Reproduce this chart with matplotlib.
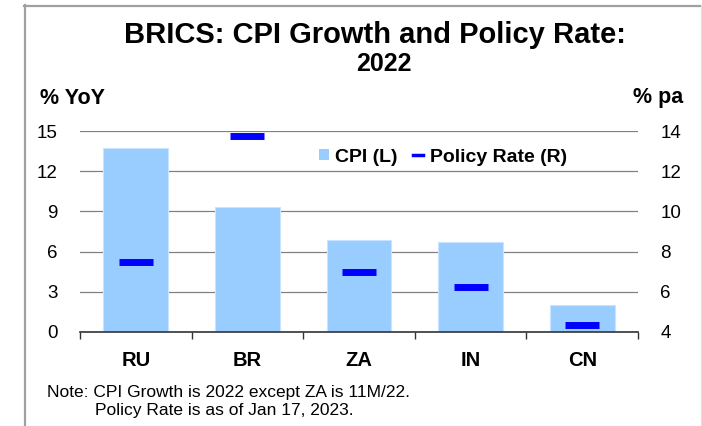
import matplotlib
matplotlib.use("Agg")
import matplotlib.pyplot as plt
import numpy as np
from matplotlib.patches import Patch
from matplotlib.lines import Line2D

plt.rcParams['font.family'] = ['Liberation Sans', 'DejaVu Sans']

countries = ["RU", "BR", "ZA", "IN", "CN"]
cpi = [13.7, 9.3, 6.9, 6.7, 2.0]
policy_rate = [7.5, 13.75, 7.0, 6.25, 4.35]
left_ticks = [0, 3, 6, 9, 12, 15]
right_ticks = [4, 6, 8, 10, 12, 14]

W, H = 702, 426
fig = plt.figure(figsize=(W / 100, H / 100), dpi=100)

x0, x1, ytop, ybot = 80, 638, 131, 332
ax = fig.add_axes([x0 / W, 1 - ybot / H, (x1 - x0) / W, (ybot - ytop) / H])
ax2 = ax.twinx()

x = np.arange(len(countries))
ax.bar(x, cpi, width=0.58, color='#99CCFF', edgecolor='#C8E4FF', linewidth=0.8, zorder=2)
ax.set_xlim(-0.5, len(countries) - 0.5)
ax.set_ylim(0, 15)
ax.set_yticks(left_ticks)
ax.yaxis.grid(True, color='#808080', linewidth=0.9, zorder=0)
ax.set_axisbelow(True)
ax.tick_params(axis='y', length=0, pad=16, labelsize=13.5)
ax.set_xticks(x)
ax.set_xticklabels(countries, fontweight='bold', fontsize=14.5)
ax.set_xticks(np.arange(-0.5, len(countries)), minor=True)
ax.tick_params(axis='x', which='major', length=0, pad=14)
ax.tick_params(axis='x', which='minor', length=5, width=1, color='#333333')

ax2.set_ylim(4, 14)
ax2.set_yticks(right_ticks)
ax2.tick_params(axis='y', length=0, pad=16, labelsize=13.5)
ax2.plot(x, policy_rate, ls='none', marker='_', ms=25, mew=5, color='#0000FF', zorder=3)

for a in (ax, ax2):
    for s in ('top', 'left', 'right'):
        a.spines[s].set_visible(False)
ax.spines['bottom'].set_color('#333333')
ax.spines['bottom'].set_linewidth(1.2)
ax2.spines['bottom'].set_visible(False)

handles = [Patch(facecolor='#99CCFF', edgecolor='none'),
           Line2D([], [], color='#0000FF', lw=2.5)]
leg = ax2.legend(handles, ["CPI (L)", "Policy Rate (R)"], ncol=2, frameon=False,
                 loc='center', bbox_to_anchor=((443 - x0) / (x1 - x0), (ybot - 157) / (ybot - ytop)),
                 prop={'weight': 'bold', 'size': 14}, handlelength=0.5, handleheight=0.5,
                 handletextpad=0.35, columnspacing=0.8, borderpad=0)

fig.text(375 / W, 1 - 35 / H, "BRICS: CPI Growth and Policy Rate:", ha='center', va='center',
         fontsize=21, fontweight='bold')
fig.text(384 / W, 1 - 64 / H, "2022", ha='center', va='center', fontsize=18, fontweight='bold')
fig.text(40 / W, 1 - 98 / H, "% YoY", ha='left', va='center', fontsize=15.5, fontweight='bold')
fig.text(683 / W, 1 - 98 / H, "% pa", ha='right', va='center', fontsize=15.5, fontweight='bold')
fig.text(47 / W, 1 - 393 / H, "Note: CPI Growth is 2022 except ZA is 11M/22.", ha='left',
         va='center', fontsize=12.5)
fig.text(95 / W, 1 - 410 / H, "Policy Rate is as of Jan 17, 2023.", ha='left',
         va='center', fontsize=12.5)

# outer frame
fig.add_artist(Line2D([24.5 / W, 24.5 / W], [0, 1 - 5 / H], color='#A0A0A0', lw=1.6))
fig.add_artist(Line2D([24 / W, 1], [1 - 5.5 / H, 1 - 5.5 / H], color='#A0A0A0', lw=1.6))
fig.add_artist(Line2D([700.5 / W, 700.5 / W], [0, 1 - 5 / H], color='#E0E0E0', lw=0.8))

fig.savefig("out.png", dpi=100)
